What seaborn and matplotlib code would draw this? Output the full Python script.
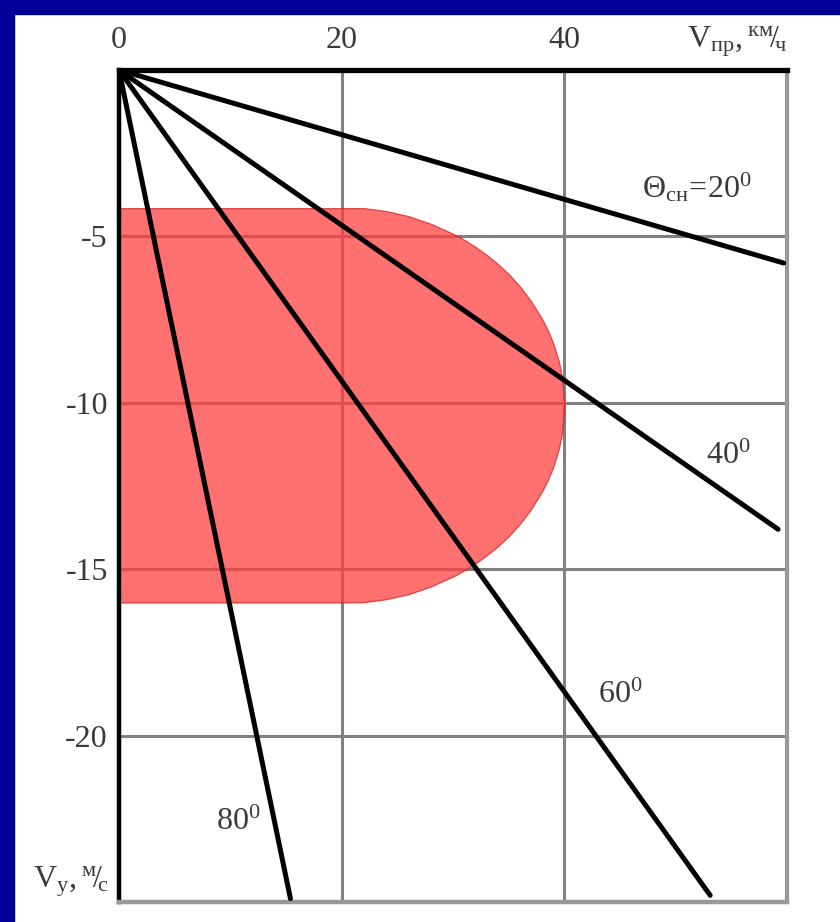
import pandas as pd
import seaborn as sns
import matplotlib.pyplot as plt
from matplotlib.patches import Rectangle

# values
x_ticks = [0, 20, 40, 60]
x_tick_labels = ['0', '20', '40', '']
y_ticks = [-5, -10, -15, -20, -25]
y_tick_labels = ['-5', '-10', '-15', '-20', '']

angles = ['20', '40', '60', '80']
line_end_x = [59.7, 59.2, 53.1, 15.4]
line_end_y = [-5.8, -13.8, -24.8, -24.9]

# red zone boundary (upper / lower edge)
zone_x = [0, 20, 22, 24, 26, 28, 30, 31, 32, 33, 34, 35, 36, 37, 38, 38.5, 39, 39.5, 39.8, 40]
zone_top = [-4.15, -4.15, -4.15, -4.24, -4.39, -4.62, -4.92, -5.10, -5.31, -5.55,
            -5.82, -6.13, -6.50, -6.94, -7.48, -7.81, -8.21, -8.75, -9.23, -10.07]
zone_bottom = [-16.0, -16.0, -15.99, -15.90, -15.75, -15.52, -15.22, -15.04, -14.83, -14.59,
               -14.32, -14.01, -13.64, -13.20, -12.66, -12.33, -11.93, -11.39, -10.91, -10.07]

sns.set_style('white')
plt.rcParams['font.family'] = ['Liberation Serif', 'DejaVu Serif']
plt.rcParams['mathtext.fontset'] = 'custom'
plt.rcParams['mathtext.rm'] = 'Liberation Serif'
plt.rcParams['mathtext.it'] = 'Liberation Serif:italic'
plt.rcParams['mathtext.bf'] = 'Liberation Serif:bold'

txt = '#3a3a3a'
fs = 23

fig = plt.figure(figsize=(8.4, 9.22), dpi=100, facecolor='white')
# blue frame on top and left
fig.patches.append(Rectangle((0, 1 - 14 / 922), 1, 14 / 922, transform=fig.transFigure,
                             color='#000099', zorder=0))
fig.patches.append(Rectangle((0, 0), 14 / 840, 1, transform=fig.transFigure,
                             color='#000099', zorder=0))

ax = fig.add_axes([119 / 840, 20 / 922, 668 / 840, 832 / 922])

# red zone
ax.fill_between(zone_x, zone_top, zone_bottom, facecolor='#ff4040', alpha=0.75,
                edgecolor='#d42020', linewidth=0.9, zorder=1.5)

# lines from the origin
rows = []
for a, ex, ey in zip(angles, line_end_x, line_end_y):
    rows.append({'angle': a, 'x': 0, 'y': 0})
    rows.append({'angle': a, 'x': ex, 'y': ey})
df = pd.DataFrame(rows)
sns.lineplot(data=df, x='x', y='y', hue='angle', palette=['black'] * 4,
             linewidth=3.6, legend=False, ax=ax, zorder=3)

ax.set_xlim(0, 60)
ax.set_ylim(-25, 0)
ax.set_xlabel('')
ax.set_ylabel('')

ax.xaxis.tick_top()
ax.set_xticks(x_ticks)
ax.set_xticklabels(x_tick_labels)
ax.set_yticks(y_ticks)
ax.set_yticklabels(y_tick_labels)
ax.tick_params(axis='x', length=0, pad=11, labelsize=fs, labelcolor=txt)
ax.tick_params(axis='y', length=0, pad=8, labelsize=fs, labelcolor=txt)

ax.grid(True, color='#808080', linewidth=2.2)
ax.set_axisbelow(True)

ax.spines['top'].set_color('black')
ax.spines['top'].set_linewidth(3.8)
ax.spines['left'].set_color('black')
ax.spines['left'].set_linewidth(3.2)
ax.spines['right'].set_color('#999999')
ax.spines['right'].set_linewidth(3)
ax.spines['bottom'].set_color('#999999')
ax.spines['bottom'].set_linewidth(3.2)
for s in ax.spines.values():
    s.set_zorder(2.5)

# axis captions
ax.text(60, 0.85, r'$\mathrm{V_{пр},{}^{км}\!/\!_{ч}}$', ha='right', va='center',
        fontsize=fs, color=txt, clip_on=False)
ax.text(-0.9, -24.4, r'$\mathrm{V_{y},{}^{м}\!/\!_{с}}$', ha='right', va='center',
        fontsize=fs, color=txt, clip_on=False)

# angle labels
ax.text(51.9, -3.55, r'$\mathrm{Θ_{сн}\!=\!20^0}$', ha='center', va='center', fontsize=fs, color=txt)
ax.text(54.7, -11.6, r'$\mathrm{40^0}$', ha='center', va='center', fontsize=fs, color=txt)
ax.text(45.0, -18.8, r'$\mathrm{60^0}$', ha='center', va='center', fontsize=fs, color=txt)
ax.text(10.7, -22.6, r'$\mathrm{80^0}$', ha='center', va='center', fontsize=fs, color=txt)

fig.savefig('out.png', dpi=100)
